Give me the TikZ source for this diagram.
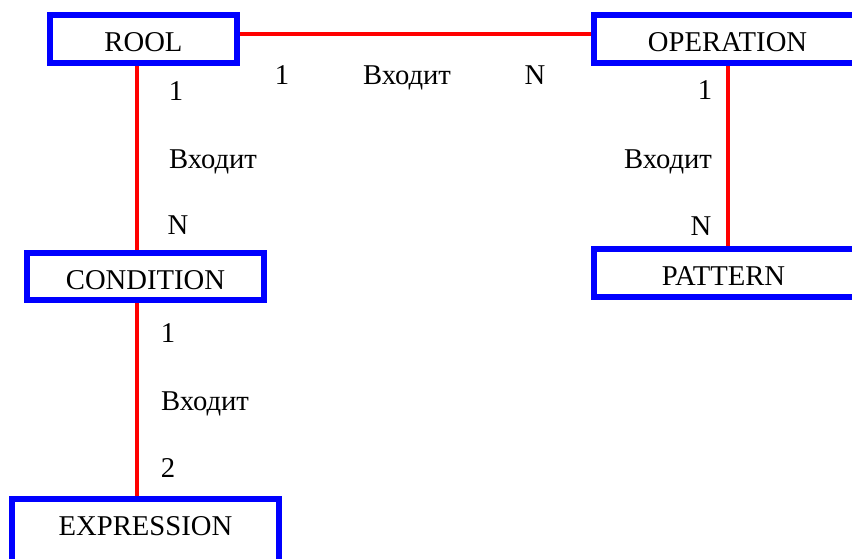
\documentclass[tikz,border=0pt]{standalone}
\usepackage{fontspec}
\setmainfont{Liberation Serif}

\begin{document}
\begin{tikzpicture}[x=0.75pt,y=0.75pt,yscale=-1,xscale=1,
  entity/.style={draw={rgb, 255:red, 0; green, 0; blue, 255 },line width=4.5pt,fill=white,inner sep=0pt,
    text height=19pt,text depth=0pt,font=\fontsize{21.5}{25}\selectfont},
  link/.style={draw={rgb, 255:red, 255; green, 0; blue, 0 },line width=3pt},
  txt/.style={anchor=base,inner sep=0.75pt,font=\fontsize{21.5}{25}\selectfont}]
\useasboundingbox (0,0) rectangle (852,558);

% Entities
\node [entity,minimum width=140.25pt,minimum height=36pt] (rool) at (143.5,39) {ROOL};
\node [entity,minimum width=212.25pt,minimum height=36pt] (operation) at (735.5,39) {\hspace*{-12pt}OPERATION};
\node [entity,minimum width=177.75pt,minimum height=35.25pt] (condition) at (145.5,276.5) {CONDITION};
\node [entity,minimum width=206.25pt,minimum height=36pt] (pattern) at (731.5,273) {\hspace*{-12pt}PATTERN};
\node [entity,minimum width=200.25pt,minimum height=60pt] (expression) at (145.5,539) {\raisebox{12pt}{EXPRESSION}};

%Straight Lines
\draw [link] ([yshift=-3.75pt]rool.east) -- ([yshift=-3.75pt]operation.west) ;
%Straight Lines
\draw [link] ([xshift=-4.9pt]rool.south) -- ([xshift=-4.9pt]rool.south |- condition.north) ;
%Straight Lines
\draw [link] ([xshift=-6pt]operation.south) -- ([xshift=-6pt]operation.south |- pattern.north) ;
%Straight Lines
\draw [link] ([xshift=-6.4pt]condition.south) -- ([xshift=-6.4pt]condition.south |- expression.north) ;

% Text Node
\node [txt] (rc1) at (176,100) {1};
\node [txt] (rcin) at (213,168) {Входит};
\node [txt] (rcn) at (178,234) {N};
% Text Node
\node [txt] (ro1) at (282,84) {1};
\node [txt] (roin) at (407,84) {Входит};
\node [txt] (ron) at (535,84) {N};
% Text Node
\node [txt] (op1) at (705,99) {1};
\node [txt] (opin) at (668,168) {Входит};
\node [txt] (opn) at (701,235) {N};
% Text Node
\node [txt] (ce1) at (168,342) {1};
\node [txt] (cein) at (205,410) {Входит};
\node [txt] (ce2) at (168,477) {2};

\end{tikzpicture}
\end{document}
